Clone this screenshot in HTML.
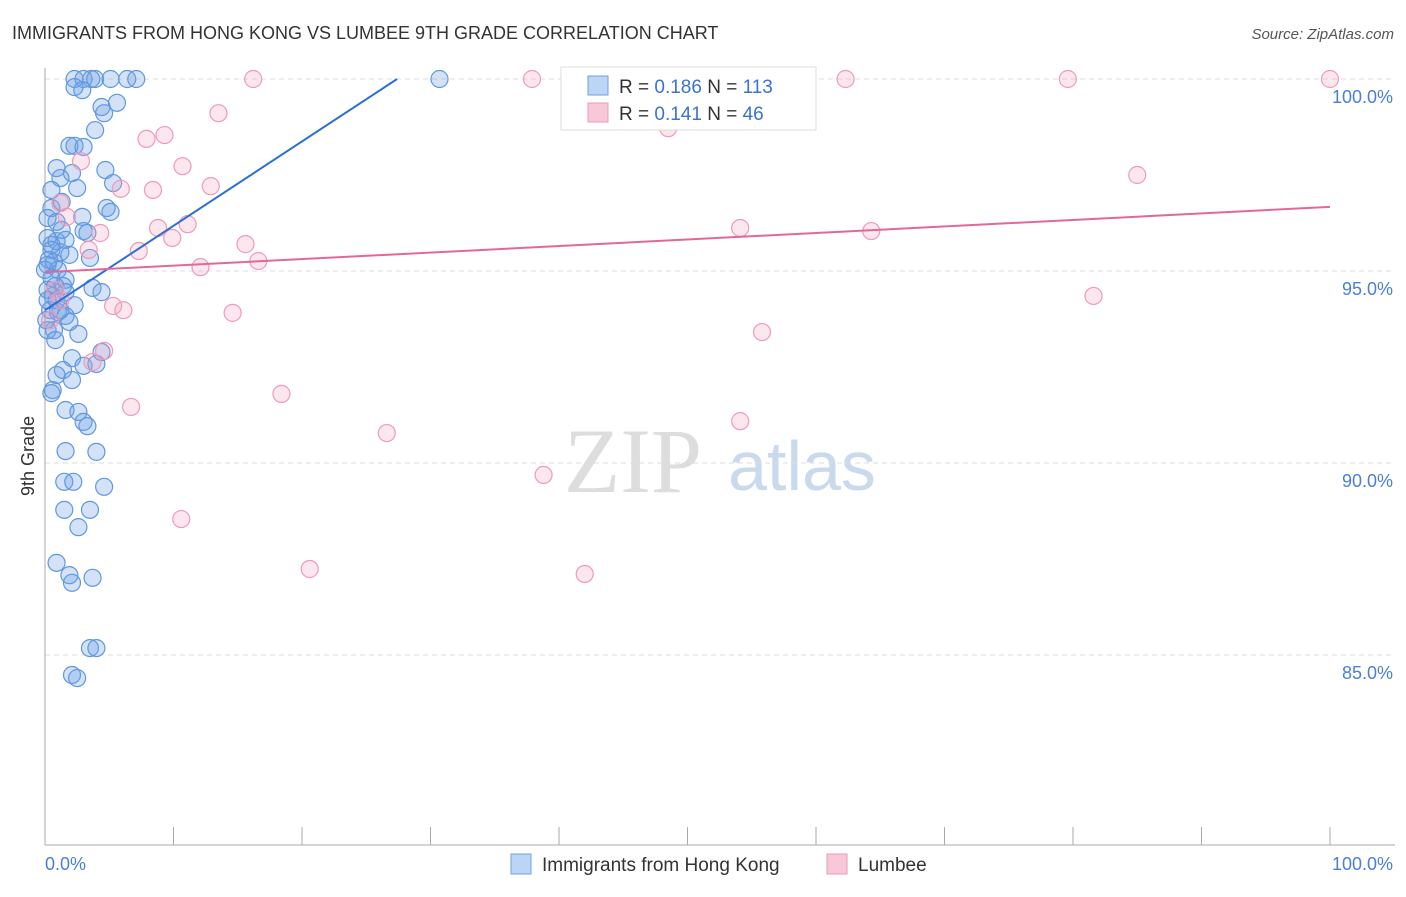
<!DOCTYPE html>
<html><head><meta charset="utf-8"><style>
body{margin:0;background:#fff;font-family:"Liberation Sans",sans-serif;}
</style></head><body>
<svg id="c" width="1406" height="892" xmlns="http://www.w3.org/2000/svg">
<text x="12" y="39" font-size="18" fill="#333">IMMIGRANTS FROM HONG KONG VS LUMBEE 9TH GRADE CORRELATION CHART</text>
<text x="1394" y="39" font-size="15" fill="#555" text-anchor="end" font-style="italic">Source: ZipAtlas.com</text>
<text x="633" y="492" font-size="92" fill="#ddd" text-anchor="middle" font-family="Liberation Serif,serif">ZIP</text>
<text x="802" y="490" font-size="70" fill="#c9d9ee" text-anchor="middle">atlas</text>
<g id="grid"></g><g id="axes"></g><g id="pts"></g><g id="lines"></g>
<text transform="translate(34,456) rotate(-90)" font-size="18" fill="#333" text-anchor="middle">9th Grade</text>
<text x="45" y="870" font-size="18" fill="#4a7fd6">0.0%</text>
<text x="1393" y="870" font-size="18" fill="#4a7fd6" text-anchor="end">100.0%</text>
<g>
<rect x="561" y="67" width="255" height="63" fill="#fff" stroke="#ddd"/>
<rect x="588" y="76" width="20" height="19" fill="#bcd4f5" stroke="#6fa0e0"/>
<text x="619" y="93" font-size="19" fill="#333">R = <tspan fill="#3a73d0">0.186</tspan>   N = <tspan fill="#3a73d0">113</tspan></text>
<rect x="588" y="103" width="20" height="19" fill="#f9c8d8" stroke="#eb9ab5"/>
<text x="619" y="120" font-size="19" fill="#333">R = <tspan fill="#3a73d0">0.141</tspan>   N = <tspan fill="#3a73d0">46</tspan></text>
</g>
<g>
<rect x="511" y="854" width="20" height="20" fill="#bcd4f5" stroke="#6fa0e0"/>
<text x="542" y="871" font-size="19" fill="#333">Immigrants from Hong Kong</text>
<rect x="827" y="854" width="20" height="20" fill="#f9c8d8" stroke="#eb9ab5"/>
<text x="858" y="871" font-size="19" fill="#333">Lumbee</text>
</g>
</svg>
<script>
const yTicks=[100,95,90,85];
const yTickLabels=["100.0%","95.0%","90.0%","85.0%"];
const xTicks=[0,10,20,30,40,50,60,70,80,90,100];
const blueX=[2.3,3.0,3.6,3.9,5.1,6.4,7.1,30.7,2.3,2.9,4.4,5.6,4.6,3.9,1.9,2.3,3.0,0.9,4.7,2.1,1.2,5.3,0.5,2.5,4.8,5.1,0.5,1.3,2.9,0.2,0.9,3.0,3.3,0.2,0.9,1.6,0.5,1.2,1.9,3.5,0.7,0.2,1.0,0.5,1.6,1.4,3.7,4.4,0.2,0.6,0.9,2.3,1.2,1.6,1.9,2.6,0.7,2.1,3.0,4.0,4.4,1.4,0.9,2.1,0.6,0.5,1.6,2.6,3.0,3.3,1.6,4.0,1.5,2.2,4.6,1.5,3.5,2.6,0.9,1.9,2.1,3.7,3.5,4.0,2.1,2.5,0.2,0.4,0.1,0.8,0,0.3,1.3,0.5,1.6,1.0,0.2,0.8];
const blueY=[100,100,100,100,100,100,100,100,99.79,99.71,99.27,99.38,99.11,98.67,98.26,98.26,98.23,97.68,97.63,97.55,97.42,97.29,97.11,97.16,96.64,96.54,96.64,96.80,96.41,96.38,96.28,96.04,95.99,95.86,95.78,95.81,95.55,95.49,95.42,95.34,95.23,95.16,95.03,94.82,94.77,94.61,94.56,94.45,94.51,94.35,94.24,94.11,93.98,93.83,93.67,93.36,93.46,92.73,92.53,92.58,92.89,92.42,92.29,92.16,91.90,91.82,91.38,91.33,91.07,90.96,90.31,90.29,89.51,89.51,89.38,88.78,88.78,88.33,87.40,87.08,86.88,87.01,85.18,85.18,84.48,84.40,94.24,93.98,93.72,94.61,95.03,95.29,96.07,95.68,94.45,93.93,93.46,93.20];
const pinkX=[16.2,37.9,62.3,79.6,100,48.5,7.9,9.3,13.5,10.7,2.8,5.9,8.4,12.9,85.0,1.2,1.7,4.3,8.8,11.1,9.9,15.6,7.3,3.4,16.6,12.1,54.1,64.3,81.6,5.3,6.1,14.6,55.8,4.6,3.7,6.7,18.4,26.6,54.1,38.8,10.6,20.6,42.0,0.8,1.2,0.4];
const pinkY=[100,100,100,100,100,98.72,98.44,98.54,99.11,97.73,97.86,97.14,97.11,97.21,97.50,96.77,96.41,95.99,96.12,96.22,95.86,95.70,95.52,95.55,95.26,95.10,96.12,96.04,94.35,94.09,93.98,93.91,93.41,92.92,92.63,91.46,91.80,90.78,91.09,89.69,88.54,87.24,87.11,94.51,94.24,93.72];
const blueTrend=[[0,93.98],[27.4,100]];
const pinkTrend=[[0,94.97],[100,96.67]];
const NS="http://www.w3.org/2000/svg";
const sx=v=>45+v*12.85, sy=v=>79+(100-v)*38.4;
function mk(t,a,p){const e=document.createElementNS(NS,t);for(const k in a)e.setAttribute(k,a[k]);p.appendChild(e);return e;}
const grid=document.getElementById('grid'),axes=document.getElementById('axes'),pts=document.getElementById('pts'),lines=document.getElementById('lines');
yTicks.forEach((t,i)=>{
 const l=mk('line',{x1:45,x2:1395,y1:sy(t),y2:sy(t),stroke:'#ddd','stroke-dasharray':'5,4'},grid);
 
 
 const tx=mk('text',{x:1393,y:sy(t)+24,'font-size':18,fill:'#4a7fd6','text-anchor':'end'},axes);
 tx.textContent=yTickLabels[i];
 
 
});
const ya=mk('line',{x1:45,x2:45,y1:68,y2:845,stroke:'#aaa'},axes);


const xa=mk('line',{x1:45,x2:1395,y1:845,y2:845,stroke:'#aaa'},axes);


xTicks.forEach(t=>{
 const l=mk('line',{x1:sx(t),x2:sx(t),y1:827,y2:845,stroke:'#aaa'},axes);
 
 
});
blueX.forEach((x,i)=>{
 const c=mk('circle',{cx:sx(x),cy:sy(blueY[i]),r:8.5,fill:'rgba(110,160,230,0.3)',stroke:'#5f98df','stroke-width':1.2},pts);
 
 
});
pinkX.forEach((x,i)=>{
 const c=mk('circle',{cx:sx(x),cy:sy(pinkY[i]),r:8.5,fill:'rgba(245,160,190,0.25)',stroke:'#ef9ab6','stroke-width':1.2},pts);
 
 
});
const bl=mk('line',{x1:sx(blueTrend[0][0]),y1:sy(blueTrend[0][1]),x2:sx(blueTrend[1][0]),y2:sy(blueTrend[1][1]),stroke:'#2a6fd8','stroke-width':2},lines);


const pl=mk('line',{x1:sx(pinkTrend[0][0]),y1:sy(pinkTrend[0][1]),x2:sx(pinkTrend[1][0]),y2:sy(pinkTrend[1][1]),stroke:'#e5679a','stroke-width':2},lines);


</script>
</body></html>
